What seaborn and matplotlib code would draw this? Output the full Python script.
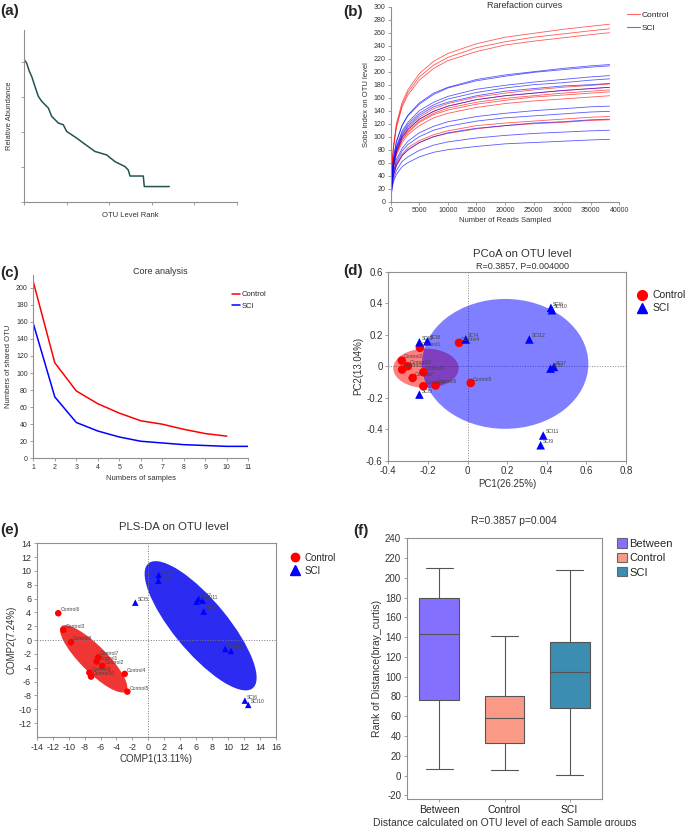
import numpy as np
import pandas as pd
import matplotlib
matplotlib.use("Agg")
import matplotlib.pyplot as plt
from matplotlib.patches import Ellipse, Patch
from matplotlib.lines import Line2D
import seaborn as sns

# ---------------- data ----------------
# (a) rank abundance curve
otu_rank = [0, 3.1, 6.3, 9.0, 12.9, 16.8, 20.7, 28.5, 32.5, 40.3, 46.1, 50.1, 61.9,
            69.6, 83.3, 97.1, 106.8, 118.5, 122.4, 124.4, 140.0, 141.2, 170.5]
rel_abund = [4.06, 3.96, 3.72, 3.58, 3.29, 3.01, 2.87, 2.68, 2.44, 2.25, 2.20, 2.01, 1.82,
             1.68, 1.44, 1.34, 1.15, 1.01, 0.91, 0.74, 0.74, 0.44, 0.44]

# (b) rarefaction curves
depths = [0, 250, 500, 1000, 2000, 3000, 5000, 7500, 10000, 15000, 20000, 25000, 30000, 35000, 38300]
control_curves = [
    [0, 60, 87, 120, 153, 172, 197, 216, 228, 243, 253, 259, 265, 270, 273],
    [0, 59, 85, 117, 149, 168, 192, 210, 222, 237, 246, 253, 258, 263, 266],
    [0, 57, 83, 114, 146, 164, 187, 205, 217, 231, 241, 247, 252, 257, 260],
    [0, 40, 58, 80, 101, 114, 130, 143, 151, 161, 167, 172, 176, 179, 181],
    [0, 39, 56, 77, 99, 111, 127, 139, 147, 157, 163, 167, 171, 174, 176],
    [0, 38, 55, 76, 96, 108, 124, 136, 144, 153, 159, 163, 167, 170, 172],
    [0, 37, 54, 74, 95, 106, 122, 134, 141, 150, 156, 161, 164, 167, 169],
    [0, 36, 52, 72, 91, 103, 117, 129, 136, 145, 151, 155, 158, 161, 163],
    [0, 29, 42, 58, 73, 83, 94, 103, 109, 117, 121, 124, 127, 130, 131],
    [0, 28, 40, 55, 71, 79, 91, 100, 105, 112, 117, 120, 122, 125, 126],
]
sci_curves = [
    [0, 46, 68, 93, 118, 133, 152, 167, 176, 188, 195, 200, 205, 209, 211],
    [0, 46, 67, 92, 117, 132, 150, 165, 175, 186, 193, 199, 203, 207, 209],
    [0, 43, 62, 85, 109, 122, 140, 153, 162, 173, 179, 184, 188, 192, 194],
    [0, 42, 60, 83, 106, 119, 136, 149, 158, 168, 175, 180, 183, 187, 189],
    [0, 41, 59, 81, 103, 116, 133, 146, 153, 163, 170, 174, 178, 180, 182],
    [0, 39, 56, 77, 99, 111, 127, 139, 147, 157, 163, 167, 171, 174, 176],
    [0, 32, 47, 65, 82, 93, 106, 116, 123, 131, 136, 140, 143, 146, 147],
    [0, 31, 44, 61, 78, 88, 100, 110, 116, 124, 129, 132, 135, 138, 139],
    [0, 28, 41, 56, 71, 80, 91, 100, 106, 113, 117, 121, 123, 126, 127],
    [0, 24, 35, 48, 62, 69, 79, 87, 92, 98, 102, 105, 107, 109, 110],
    [0, 21, 31, 42, 54, 60, 69, 76, 80, 85, 89, 91, 93, 95, 96],
]

# (c) core analysis
core_n_control = [1, 2, 3, 4, 5, 6, 7, 8, 9, 10]
core_control = [207, 112, 79, 64, 53, 44, 40, 34, 29, 26]
core_n_sci = [1, 2, 3, 4, 5, 6, 7, 8, 9, 10, 11]
core_sci = [158, 72, 42, 32, 25, 20, 18, 16, 15, 14, 14]

# (d) PCoA
pcoa_ctrl_names = ["Control1", "Control4", "Control2", "Control10", "Control3",
                   "Control8", "Control7", "Control9", "Control6", "Control5"]
pcoa_ctrl_x = [-0.240, -0.043, -0.332, -0.302, -0.330, -0.223, -0.277, -0.223, -0.161, 0.016]
pcoa_ctrl_y = [0.117, 0.149, 0.036, 0.000, -0.021, -0.038, -0.074, -0.127, -0.122, -0.106]
pcoa_sci_names = ["SCI3", "SCI8", "SCI4", "SCI12", "SCI6", "SCI10",
                  "SCI2", "SCI7", "SCI11", "SCI9", "SCI5"]
pcoa_sci_x = [-0.243, -0.203, -0.009, 0.312, 0.421, 0.426, 0.419, 0.436, 0.382, 0.369, -0.243]
pcoa_sci_y = [0.152, 0.159, 0.170, 0.170, 0.371, 0.356, -0.015, -0.004, -0.440, -0.502, -0.180]

# (e) PLS-DA
pls_ctrl_names = ["Control6", "Control3", "Control8", "Control1", "Control7",
                  "Control2", "Control9", "Control10", "Control4", "Control5"]
pls_ctrl_x = [-11.3, -10.66, -9.7, -6.48, -6.3, -5.78, -7.4, -7.19, -2.97, -2.64]
pls_ctrl_y = [3.89, 1.47, -0.3, -3.1, -2.5, -3.73, -4.7, -5.27, -4.88, -7.44]
pls_sci_names = ["SCI3", "SCI8", "SCI5", "SCI4", "SCI11", "SCI7",
                 "SCI2", "SCI12", "SCI9", "SCI6", "SCI10"]
pls_sci_x = [1.29, 1.25, -1.64, 6.05, 6.8, 6.3, 6.93, 9.64, 10.35, 12.1, 12.52]
pls_sci_y = [9.42, 8.6, 5.42, 5.57, 5.71, 6.0, 4.12, -1.27, -1.56, -8.74, -9.36]

# (f) ANOSIM rank boxes: low whisker, Q1, median, Q3, high whisker
box_groups = ["Between", "Control", "SCI"]
box_between = [7, 76, 143, 180, 210]
box_control = [6, 33, 58, 80, 141]
box_sci = [1, 68, 105, 135, 208]

# ---------------- style ----------------
sns.set_style("ticks")
plt.rcParams["font.family"] = ["Liberation Sans", "DejaVu Sans"]
plt.rcParams["axes.linewidth"] = 0.8
plt.rcParams["axes.unicode_minus"] = False

W, H = 685, 826
fig = plt.figure(figsize=(W / 100, H / 100), dpi=100)


def rect(l, t, r, b):
    return [l / W, 1 - b / H, (r - l) / W, (b - t) / H]


def ftext(x, y, s, **kw):
    fig.text(x / W, 1 - y / H, s, **kw)


def style(ax, box=False, size=6):
    for side, sp in ax.spines.items():
        sp.set_color("#8f8f8f")
        sp.set_linewidth(0.8)
        if not box and side in ("top", "right"):
            sp.set_visible(False)
    ax.tick_params(length=2.5, width=0.6, color="#8f8f8f", labelcolor="#333333",
                   labelsize=size, pad=1.5)


RED, BLUE = "#ff0000", "#0000ff"

# ---------------- (a) ----------------
ax = fig.add_axes(rect(24, 30, 237, 202))
sns.lineplot(x=otu_rank, y=rel_abund, color="#245353", linewidth=1.1, ax=ax)
ax.set_xlim(0, 250)
ax.set_ylim(0, 4.9)
ax.set_xticks(range(0, 251, 50))
ax.set_yticks([0, 1, 2, 3, 4])
ax.set_xticklabels([])
ax.set_yticklabels([])
style(ax)
ax.set_xlabel("OTU Level Rank", fontsize=5.5, color="#333333", labelpad=3)
ax.set_ylabel("Relative Abundance", fontsize=5.5, color="#333333", labelpad=4)
ftext(0, 11, "(a)", fontsize=11, fontweight="bold", va="center")

# ---------------- (b) ----------------
rows = []
for i, vals in enumerate(control_curves):
    for d, v in zip(depths, vals):
        rows.append(("C%d" % i, "Control", d, v))
for i, vals in enumerate(sci_curves):
    for d, v in zip(depths, vals):
        rows.append(("S%d" % i, "SCI", d, v))
rare = pd.DataFrame(rows, columns=["sample", "group", "reads", "sobs"])

ax = fig.add_axes(rect(390.7, 6.7, 619.3, 201.7))
sns.lineplot(data=rare, x="reads", y="sobs", hue="group", units="sample", estimator=None,
             palette={"Control": RED, "SCI": BLUE}, linewidth=0.6, alpha=0.65,
             legend=False, ax=ax)
ax.set_xlim(0, 40000)
ax.set_ylim(0, 300)
ax.set_xticks(range(0, 40001, 5000))
ax.set_yticks(range(0, 301, 20))
style(ax, size=5)
ax.set_xlabel("Number of Reads Sampled", fontsize=5.5, color="#333333", labelpad=2)
ax.set_ylabel("Sobs index on OTU level", fontsize=5.5, color="#333333", labelpad=2)
ftext(525, 5, "Rarefaction curves", fontsize=6.5, ha="center", va="center", color="#333333")
ftext(343, 12, "(b)", fontsize=11, fontweight="bold", va="center")
hb = [Line2D([], [], color=RED, lw=0.8, alpha=0.6), Line2D([], [], color=BLUE, lw=0.8, alpha=0.6)]
fig.legend(hb, ["Control", "SCI"], loc="upper left", bbox_to_anchor=(624 / W, 1 - 8 / H),
           frameon=False, fontsize=6, handlelength=1.5, handletextpad=0.2,
           labelspacing=0.6, borderaxespad=0)

# ---------------- (c) ----------------
ax = fig.add_axes(rect(33.3, 275, 248.3, 458.3))
sns.lineplot(x=core_n_control, y=core_control, color=RED, linewidth=1.1, ax=ax)
sns.lineplot(x=core_n_sci, y=core_sci, color=BLUE, linewidth=1.1, ax=ax)
ax.set_xlim(1, 11)
ax.set_ylim(0, 215)
ax.set_xticks(range(1, 12))
ax.set_yticks(range(0, 201, 20))
style(ax, size=5)
ax.set_xlabel("Numbers of samples", fontsize=5.5, color="#333333", labelpad=3)
ax.set_ylabel("Numbers of shared OTU", fontsize=5.5, color="#333333", labelpad=3)
ftext(160, 272, "Core analysis", fontsize=6.5, ha="center", va="center", color="#333333")
ftext(0, 273, "(c)", fontsize=11, fontweight="bold", va="center")
hc = [Line2D([], [], color=RED, lw=1.1), Line2D([], [], color=BLUE, lw=1.1)]
fig.legend(hc, ["Control", "SCI"], loc="upper left", bbox_to_anchor=(229 / W, 1 - 288 / H),
           frameon=False, fontsize=5.5, handlelength=1.1, handletextpad=0.1,
           labelspacing=0.5, borderaxespad=0)

# ---------------- (d) ----------------
pcoa = pd.DataFrame({
    "name": pcoa_ctrl_names + pcoa_sci_names,
    "x": pcoa_ctrl_x + pcoa_sci_x,
    "y": pcoa_ctrl_y + pcoa_sci_y,
    "group": ["Control"] * len(pcoa_ctrl_x) + ["SCI"] * len(pcoa_sci_x),
})
ax = fig.add_axes(rect(388.3, 271.8, 626, 460.7))
ax.add_patch(Ellipse((-0.21, -0.013), 0.33, 0.25, facecolor=RED, alpha=0.5,
                     edgecolor="none", zorder=1))
ax.add_patch(Ellipse((0.19, 0.015), 0.84, 0.825, facecolor=BLUE, alpha=0.5,
                     edgecolor="none", zorder=1))
ax.axhline(0, color="#888888", lw=0.7, ls=":", zorder=0)
ax.axvline(0, color="#888888", lw=0.7, ls=":", zorder=0)
sns.scatterplot(data=pcoa, x="x", y="y", hue="group", style="group",
                palette={"Control": RED, "SCI": BLUE}, markers={"Control": "o", "SCI": "^"},
                s=38, edgecolor="none", legend=False, zorder=3, ax=ax)
for _, r in pcoa.iterrows():
    ax.annotate(r["name"], (r["x"], r["y"]), xytext=(1.5, 1.5), textcoords="offset points",
                fontsize=3.6, color="#444444", zorder=4)
ax.set_xlim(-0.4, 0.8)
ax.set_ylim(-0.6, 0.6)
ax.set_xticks(np.round(np.arange(-0.4, 0.81, 0.2), 1))
ax.set_yticks(np.round(np.arange(-0.6, 0.61, 0.2), 1))
ax.set_xticklabels(["%g" % v for v in ax.get_xticks()])
ax.set_yticklabels(["%g" % v for v in ax.get_yticks()])
style(ax, box=True, size=7)
ax.set_xlabel("PC1(26.25%)", fontsize=7, color="#333333", labelpad=2)
ax.set_ylabel("PC2(13.04%)", fontsize=7, color="#333333", labelpad=2)
ftext(522, 254, "PCoA on OTU level", fontsize=8.2, ha="center", va="center", color="#333333")
ftext(522, 266, "R=0.3857, P=0.004000", fontsize=6.5, ha="center", va="center", color="#333333")
ftext(343, 271, "(d)", fontsize=11, fontweight="bold", va="center")
hd = [Line2D([], [], color=RED, marker="o", ls="none", markersize=7),
      Line2D([], [], color=BLUE, marker="^", ls="none", markersize=7)]
fig.legend(hd, ["Control", "SCI"], loc="upper left", bbox_to_anchor=(632 / W, 1 - 286 / H),
           frameon=False, fontsize=7.5, handlelength=1.2, handletextpad=0.4,
           labelspacing=0.3, borderaxespad=0)

# ---------------- (e) ----------------
pls = pd.DataFrame({
    "name": pls_ctrl_names + pls_sci_names,
    "x": pls_ctrl_x + pls_sci_x,
    "y": pls_ctrl_y + pls_sci_y,
    "group": ["Control"] * len(pls_ctrl_x) + ["SCI"] * len(pls_sci_x),
})
ax = fig.add_axes(rect(36.7, 543.3, 276, 737))
ax.add_patch(Ellipse((-6.85, -2.7), 12.4, 3.5, angle=-49.8, facecolor="#f02a2a",
                     edgecolor="none", alpha=0.95, zorder=1))
ax.add_patch(Ellipse((6.55, 2.08), 22.3, 7.0, angle=-54.9, facecolor="#1f1ff2",
                     edgecolor="none", alpha=0.95, zorder=1))
ax.axhline(0, color="#777777", lw=0.7, ls=":", zorder=2)
ax.axvline(0, color="#777777", lw=0.7, ls=":", zorder=2)
sns.scatterplot(data=pls, x="x", y="y", hue="group", style="group",
                palette={"Control": RED, "SCI": BLUE}, markers={"Control": "o", "SCI": "^"},
                s=22, edgecolor="none", legend=False, zorder=3, ax=ax)
for _, r in pls.iterrows():
    ax.annotate(r["name"], (r["x"], r["y"]), xytext=(1.5, 1.5), textcoords="offset points",
                fontsize=3.6, color="#444444", zorder=4)
ax.set_xlim(-14, 16)
ax.set_ylim(-14, 14)
ax.set_xticks(range(-14, 17, 2))
ax.set_yticks(range(-12, 15, 2))
style(ax, box=True, size=6.5)
ax.set_xlabel("COMP1(13.11%)", fontsize=7, color="#333333", labelpad=2)
ax.set_ylabel("COMP2(7.24%)", fontsize=7, color="#333333", labelpad=1)
ftext(174, 527, "PLS-DA on OTU level", fontsize=8.2, ha="center", va="center", color="#333333")
ftext(0, 530, "(e)", fontsize=11, fontweight="bold", va="center")
he = [Line2D([], [], color=RED, marker="o", ls="none", markersize=6),
      Line2D([], [], color=BLUE, marker="^", ls="none", markersize=6.5)]
fig.legend(he, ["Control", "SCI"], loc="upper left", bbox_to_anchor=(285 / W, 1 - 549 / H),
           frameon=False, fontsize=7, handlelength=1.2, handletextpad=0.4,
           labelspacing=0.3, borderaxespad=0)

# ---------------- (f) ----------------
dist = pd.DataFrame({
    "group": ["Between"] * 5 + ["Control"] * 5 + ["SCI"] * 5,
    "rank": box_between + box_control + box_sci,
})
box_pal = {"Between": "#8470ff", "Control": "#fa9a86", "SCI": "#3b8db1"}
ax = fig.add_axes(rect(406.7, 538.3, 602.3, 799.3))
sns.boxplot(data=dist, x="group", y="rank", hue="group", order=box_groups, palette=box_pal,
            saturation=1, width=0.61, whis=np.inf, linecolor="#555555", linewidth=0.8,
            legend=False, capwidths=0.41, ax=ax)
ax.set_xlim(-0.5, 2.5)
ax.set_ylim(-24, 240)
ax.set_yticks(range(-20, 241, 20))
style(ax, box=True, size=7)
ax.tick_params(axis="x", labelsize=7.5, labelcolor="#222222")
ax.set_xlabel("Distance calculated on OTU level of each Sample groups", fontsize=7.5,
              color="#333333", labelpad=2)
ax.set_ylabel("Rank of Distance(bray_curtis)", fontsize=7.5, color="#333333", labelpad=2)
ftext(514, 521, "R=0.3857 p=0.004", fontsize=7.5, ha="center", va="center", color="#333333")
ftext(353, 531, "(f)", fontsize=11, fontweight="bold", va="center")
hf = [Patch(facecolor=box_pal[g], edgecolor="#666666", linewidth=0.8) for g in box_groups]
fig.legend(hf, box_groups, loc="upper left", bbox_to_anchor=(613 / W, 1 - 534 / H),
           frameon=False, fontsize=8, handlelength=0.9, handleheight=0.9, handletextpad=0.15,
           labelspacing=0.35, borderaxespad=0)

fig.savefig("out.png", dpi=100)
